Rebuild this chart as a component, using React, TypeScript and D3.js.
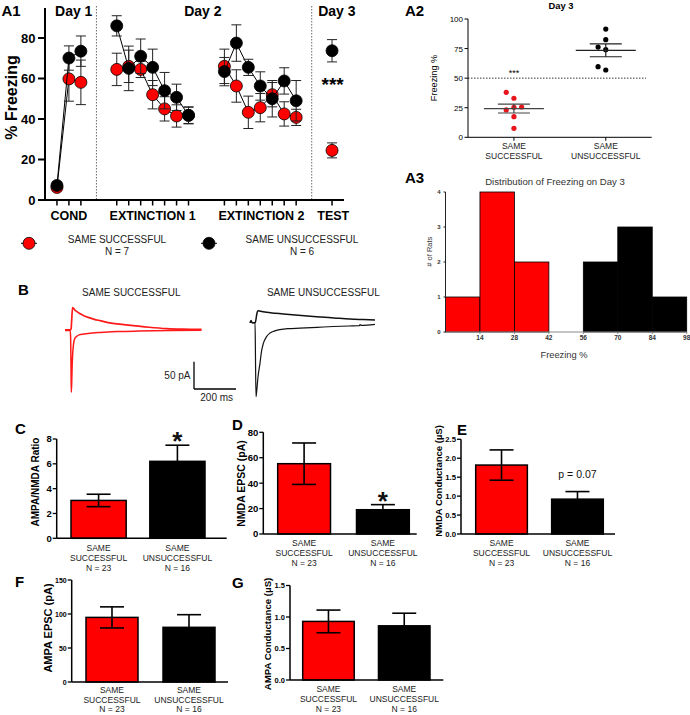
import React from "react";
import * as d3 from "d3";

const RED = "#ff0000";
const FONT = "'Liberation Sans', Arial, Helvetica, sans-serif";

// ---------------- A1 data ----------------
const a1Trial = [1, 2, 3, 6, 7, 8, 9, 10, 11, 12, 15, 16, 17, 18, 19, 20, 21, 24];
const a1Session = ["COND", "COND", "COND", "EXT1", "EXT1", "EXT1", "EXT1", "EXT1", "EXT1", "EXT1", "EXT2", "EXT2", "EXT2", "EXT2", "EXT2", "EXT2", "EXT2", "TEST"];
const a1SuccessMean = [6.2, 59.8, 58.1, 64.5, 66, 64.5, 52, 45, 41.5, 41.8, 66, 56.3, 43.3, 45.6, 52, 42.5, 40.8, 24.5];
const a1SuccessSem = [0.8, 11, 11, 8, 8, 4, 7, 6, 5.5, 4, 8.5, 8, 8, 7, 6, 6, 4, 3.7];
const a1UnsuccessMean = [7.2, 70.1, 73.5, 86, 65, 71, 65.5, 54, 50.7, 41.8, 63.4, 77.5, 65.5, 56.3, 50, 58.8, 49, 73.7];
const a1UnsuccessSem = [0.8, 6, 7.5, 5, 11, 8.5, 9, 9, 6.5, 4.2, 7, 9, 4, 7, 9, 6.5, 10, 5.5];
const a1SessionLabels = ["COND", "EXTINCTION 1", "EXTINCTION 2", "TEST"];
const a1DayLabels = ["Day 1", "Day 2", "Day 3"];
const a1YTicks = [0, 20, 40, 60, 80];
const legendNames = ["SAME SUCCESSFUL", "SAME UNSUCCESSFUL"];
const legendN = ["N = 7", "N = 6"];

// ---------------- A2 data ----------------
const a2Success = [38, 33, 25.6, 25.3, 23.1, 17.4, 7.6];
const a2Unsuccess = [91.5, 82.5, 76.3, 74.1, 59.7, 56.9];
const a2YTicks = [0, 25, 50, 75, 100];
const a2Groups = [["SAME", "SUCCESSFUL"], ["SAME", "UNSUCCESSFUL"]];

// ---------------- A3 data ----------------
const histEdges = [0, 14, 28, 42, 56, 70, 84, 98];
const histSuccess = [1, 4, 2, 0, 0, 0, 0];
const histUnsuccess = [0, 0, 0, 0, 2, 3, 1];
const histYTicks = [0, 1, 2, 3, 4];

// ---------------- B traces (ms, pA) ----------------
const redUpperT = [0, 26, 29, 32, 36, 40, 46, 55, 70, 90, 115, 140, 167, 200, 250, 325, 400, 485, 560, 650];
const redUpperI = [1, 1, 3, 20, 42, 41, 38, 35, 31, 27, 23.5, 20.5, 18, 15, 12, 9, 6, 3.5, 2.5, 2];
const redLowerT = [0, 25, 27, 29, 30, 32, 34, 37, 41, 46, 55, 67, 90, 130, 167, 250, 350, 500, 650];
const redLowerI = [0, 0, -15, -80, -113, -95, -65, -40, -24, -15, -11, -8, -6.5, -4.5, -3.5, -2, -1, 0, 0.5];
const blackUpperT = [0, 5, 10, 25, 28, 32, 36, 40, 50, 79, 120, 159, 230, 317, 400, 476, 540, 595];
const blackUpperI = [0, 4, 0, 0, 5, 15, 21, 22, 21, 19, 17.5, 16, 13.5, 11, 8.8, 6.8, 5.8, 5];
const blackLowerT = [0, 5, 10, 24, 26, 28.6, 32, 38, 47.6, 55, 63.5, 78, 95, 115, 135, 180, 238, 320, 397, 470, 520, 524, 530, 595];
const blackLowerI = [0, 3, 0, 0, -60, -135.5, -125, -100, -74, -52, -38, -26, -19, -15.5, -13, -11, -10, -8.5, -7, -6, -5.5, -3.5, -5, -3];

// ---------------- Bar data ----------------
const barGroups = ["SAME SUCCESSFUL", "SAME UNSUCCESSFUL"];
const barLabelLines = [["SAME", "SUCCESSFUL", "N = 23"], ["SAME", "UNSUCCESSFUL", "N = 16"]];
const ratioMean = [3.05, 6.2];
const ratioSem = [0.5, 1.3];
const nmdaEpscMean = [55.3, 19.1];
const nmdaEpscSem = [16.3, 4];
const nmdaCondMean = [1.82, 0.92];
const nmdaCondSem = [0.4, 0.2];
const ampaEpscMean = [95, 80.4];
const ampaEpscSem = [15.5, 18.6];
const ampaCondMean = [0.93, 0.86];
const ampaCondSem = [0.18, 0.2];

function PanelA1() {
  const x = d3.scaleLinear().domain([0, 25]).range([45, 344]);
  const y = d3.scaleLinear().domain([0, 80]).range([200, 38]);
  const idx = d3.range(a1Trial.length);
  const segs = d3.groups(idx, (i) => a1Session[i]).map((d) => d[1]);
  const series = [
    { mean: a1SuccessMean, sem: a1SuccessSem, fill: RED },
    { mean: a1UnsuccessMean, sem: a1UnsuccessSem, fill: "#000" },
  ];
  const sessionAt = [2, 9, 18.1, 24.1];
  const dayAt = [2.4, 13.2, 24.4];
  return (
    <g>
      <text x={1.5} y={15.5} fontSize={15} fontWeight="bold">A1</text>
      {[4.3, 22.3].map((v) => (
        <line key={v} x1={x(v)} x2={x(v)} y1={6} y2={200} stroke="#444" strokeWidth={0.8} strokeDasharray="1.5,1.5" />
      ))}
      {a1DayLabels.map((t, i) => (
        <text key={t} x={x(dayAt[i])} y={16} textAnchor="middle" fontSize={14} fontWeight="bold">{t}</text>
      ))}
      <line x1={45} x2={45} y1={y(94.8)} y2={201} stroke="#000" strokeWidth={2} />
      <line x1={44} x2={344} y1={200} y2={200} stroke="#000" strokeWidth={2} />
      {a1YTicks.map((t) => (
        <g key={t}>
          <line x1={38} x2={45} y1={y(t)} y2={y(t)} stroke="#000" strokeWidth={2} />
          <text x={35.5} y={y(t) + 4.7} textAnchor="end" fontSize={13} fontWeight="bold">{t}</text>
        </g>
      ))}
      {a1Trial.map((t) => (
        <line key={t} x1={x(t)} x2={x(t)} y1={200} y2={205.5} stroke="#000" strokeWidth={1.5} />
      ))}
      {a1SessionLabels.map((s, i) => (
        <text key={s} x={x(sessionAt[i])} y={220} textAnchor="middle" fontSize={12.5} fontWeight="bold">{s}</text>
      ))}
      <text transform="translate(17,97.5) rotate(-90)" textAnchor="middle" fontSize={16} fontWeight="bold">% Freezing</text>
      {series.map((s, si) => {
        const line = d3.line<number>().x((i) => x(a1Trial[i])).y((i) => y(s.mean[i]));
        return (
          <g key={si}>
            {segs.map((sg, k) => (
              <path key={k} d={line(sg) || ""} fill="none" stroke="#000" strokeWidth={1} />
            ))}
            {idx.map((i) => {
              const cx = x(a1Trial[i]);
              const y1 = y(s.mean[i] + s.sem[i]);
              const y2 = y(s.mean[i] - s.sem[i]);
              return (
                <g key={i} stroke="#222" strokeWidth={1}>
                  <line x1={cx} x2={cx} y1={y1} y2={y2} />
                  <line x1={cx - 5} x2={cx + 5} y1={y1} y2={y1} />
                  <line x1={cx - 5} x2={cx + 5} y1={y2} y2={y2} />
                </g>
              );
            })}
            {idx.map((i) => (
              <circle key={i} cx={x(a1Trial[i])} cy={y(s.mean[i])} r={6} fill={s.fill} stroke="#000" strokeWidth={0.8} />
            ))}
          </g>
        );
      })}
      <text x={x(24.05)} y={91} textAnchor="middle" fontSize={19} fontWeight="bold">***</text>
      {[RED, "#000"].map((c, i) => {
        const cx = i === 0 ? 29 : 209;
        const tx = i === 0 ? 117 : 302;
        return (
          <g key={i}>
            <line x1={cx - 8} x2={cx + 8} y1={243.3} y2={243.3} stroke="#000" strokeWidth={1} />
            <circle cx={cx} cy={243.3} r={6} fill={c} stroke="#000" strokeWidth={0.8} />
            <text x={tx} y={243} textAnchor="middle" fontSize={10} fill="#222">{legendNames[i]}</text>
            <text x={tx} y={255} textAnchor="middle" fontSize={10} fill="#222">{legendN[i]}</text>
          </g>
        );
      })}
    </g>
  );
}

function beeswarm(vals: number[], y: (v: number) => number, d: number, minDist: number) {
  const order = d3.range(vals.length).sort((a, b) => vals[a] - vals[b]);
  const placed: { dx: number; py: number }[] = [];
  const out: number[] = new Array(vals.length).fill(0);
  for (const i of order) {
    const py = y(vals[i]);
    for (const dx of [0, -d, d, -2 * d, 2 * d]) {
      const ok = placed.every((p) => Math.hypot(p.dx - dx, p.py - py) >= minDist);
      if (ok) {
        out[i] = dx;
        placed.push({ dx, py });
        break;
      }
    }
  }
  return out;
}

function PanelA2() {
  const y = d3.scaleLinear().domain([0, 100]).range([137.3, 19]);
  const x = d3.scalePoint<number>().domain([0, 1]).range([468, 651.7]).padding(0.5);
  const groups = [
    { vals: a2Success, fill: "#e8141b", line: "#444" },
    { vals: a2Unsuccess, fill: "#000", line: "#222" },
  ];
  return (
    <g>
      <text x={405} y={15.5} fontSize={15} fontWeight="bold">A2</text>
      <text x={561} y={9} textAnchor="middle" fontSize={9.4} fontWeight="bold">Day 3</text>
      <line x1={468} x2={468} y1={y(100)} y2={y(0)} stroke="#000" strokeWidth={1} />
      <line x1={468} x2={651.7} y1={y(0)} y2={y(0)} stroke="#000" strokeWidth={1} />
      {a2YTicks.map((t) => (
        <g key={t}>
          <line x1={464.5} x2={468} y1={y(t)} y2={y(t)} stroke="#000" />
          <text x={463} y={y(t) + 3} textAnchor="end" fontSize={8}>{t}</text>
        </g>
      ))}
      <text transform="translate(437,78) rotate(-90)" textAnchor="middle" fontSize={9.2}>Freezing %</text>
      <line x1={468} x2={646} y1={y(50)} y2={y(50)} stroke="#000" strokeWidth={0.8} strokeDasharray="1.5,1.5" />
      {groups.map((g, gi) => {
        const cx = x(gi) as number;
        const m = d3.mean(g.vals) as number;
        const sem = (d3.deviation(g.vals) as number) / Math.sqrt(g.vals.length);
        const offs = beeswarm(g.vals, y, 7.7, 7.5);
        return (
          <g key={gi}>
            <line x1={cx} x2={cx} y1={y(0)} y2={y(0) + 3.5} stroke="#000" />
            {a2Groups[gi].map((s, k) => (
              <text key={k} x={cx} y={149 + k * 10} textAnchor="middle" fontSize={8.5} fill="#222">{s}</text>
            ))}
            {g.vals.map((v, i) => (
              <circle key={i} cx={cx + offs[i]} cy={y(v)} r={2.6} fill={g.fill} />
            ))}
            <g stroke={g.line} strokeWidth={1.2}>
              <line x1={cx - 30} x2={cx + 30} y1={y(m)} y2={y(m)} />
              <line x1={cx} x2={cx} y1={y(m + sem)} y2={y(m - sem)} />
              <line x1={cx - 16} x2={cx + 16} y1={y(m + sem)} y2={y(m + sem)} />
              <line x1={cx - 16} x2={cx + 16} y1={y(m - sem)} y2={y(m - sem)} />
            </g>
          </g>
        );
      })}
      <text x={x(0) as number} y={76} textAnchor="middle" fontSize={9}>***</text>
    </g>
  );
}

function PanelA3() {
  const x = d3.scaleLinear().domain([0, 98]).range([445.5, 686.7]);
  const y = d3.scaleLinear().domain([0, 4]).range([332, 192]);
  const bins = d3.range(histEdges.length - 1);
  return (
    <g>
      <text x={405} y={183} fontSize={15} fontWeight="bold">A3</text>
      <text x={555} y={185} textAnchor="middle" fontSize={9.6} fill="#333">Distribution of Freezing on Day 3</text>
      {bins.map((b) =>
        [
          { c: histSuccess[b], f: RED },
          { c: histUnsuccess[b], f: "#000" },
        ]
          .filter((d) => d.c > 0)
          .map((d, k) => (
            <rect key={`${b}-${k}`} x={x(histEdges[b])} y={y(d.c)} width={x(histEdges[b + 1]) - x(histEdges[b])} height={y(0) - y(d.c)} fill={d.f} stroke="#000" strokeWidth={0.8} />
          ))
      )}
      <line x1={445.5} x2={686.7} y1={332} y2={332} stroke="#888" strokeWidth={1} />
      <line x1={445.5} x2={445.5} y1={192} y2={332} stroke="#222" strokeWidth={1} />
      {histYTicks.map((t) => (
        <g key={t}>
          <line x1={443.5} x2={445.5} y1={y(t)} y2={y(t)} stroke="#222" />
          <text x={440.5} y={y(t) + 2.2} textAnchor="end" fontSize={6} fontWeight="bold" fill="#333">{t}</text>
        </g>
      ))}
      {histEdges.slice(1).map((t) => (
        <g key={t}>
          <line x1={x(t)} x2={x(t)} y1={332} y2={334} stroke="#888" />
          <text x={x(t)} y={339.5} textAnchor="middle" fontSize={6.5} fontWeight="bold" fill="#333">{t}</text>
        </g>
      ))}
      <text transform="translate(431.5,251.7) rotate(-90)" textAnchor="middle" fontSize={7.5} fill="#333">
        # of Rats
      </text>
      <text x={564} y={357.5} textAnchor="middle" fontSize={9.3} fill="#333">Freezing %</text>
    </g>
  );
}

function Trace({ t, i, x0, base, color, w }: { t: number[]; i: number[]; x0: number; base: number; color: string; w: number }) {
  const xs = d3.scaleLinear().domain([0, 200]).range([x0, x0 + 42]);
  const ys = d3.scaleLinear().domain([0, 50]).range([base, base - 27.3]);
  const line = d3
    .line<number>()
    .x((k) => xs(t[k]))
    .y((k) => ys(i[k]))
    .curve(d3.curveMonotoneX);
  return <path d={line(d3.range(t.length)) || ""} fill="none" stroke={color} strokeWidth={w} strokeLinejoin="round" />;
}

function PanelB() {
  const xs = d3.scaleLinear().domain([0, 200]).range([194, 236]);
  const ys = d3.scaleLinear().domain([0, 50]).range([389, 361.7]);
  return (
    <g>
      <text x={18} y={295} fontSize={15} fontWeight="bold">B</text>
      <text x={131.3} y={296} textAnchor="middle" fontSize={10} fill="#222">SAME SUCCESSFUL</text>
      <text x={323.3} y={296} textAnchor="middle" fontSize={10} fill="#222">SAME UNSUCCESSFUL</text>
      <Trace t={redUpperT} i={redUpperI} x0={65} base={330.5} color="#ff1a1a" w={1.7} />
      <Trace t={redLowerT} i={redLowerI} x0={65} base={330.5} color="#ff1a1a" w={1.5} />
      <Trace t={blackUpperT} i={blackUpperI} x0={250} base={322.7} color="#111" w={1.5} />
      <Trace t={blackLowerT} i={blackLowerI} x0={250} base={322.7} color="#111" w={1.2} />
      <line x1={xs(0)} x2={xs(0)} y1={ys(0)} y2={ys(50)} stroke="#000" strokeWidth={1.3} />
      <line x1={xs(0)} x2={xs(200)} y1={ys(0)} y2={ys(0)} stroke="#000" strokeWidth={1.3} />
      <text x={190.5} y={379} textAnchor="end" fontSize={10} fill="#222">50 pA</text>
      <text x={216.7} y={401} textAnchor="middle" fontSize={10} fill="#222">200 ms</text>
    </g>
  );
}

type Note = { text: string; dy: number; size: number; bold: boolean; group: number };
type BarCfg = {
  letter: string;
  letterX: number;
  letterY: number;
  axisX: number;
  axisEnd: number;
  y0: number;
  yTopPx: number;
  yMax: number;
  ticks: number[];
  fmt: (v: number) => string;
  tickSize: number;
  means: number[];
  sems: number[];
  band: [number, number];
  pad: number;
  yLabel: string;
  yLabelX: number;
  yLabelY: number;
  yLabelSize: number;
  labelTop: number;
  labelStep: number;
  note?: Note;
};

function BarPanel({ c }: { c: BarCfg }) {
  const y = d3.scaleLinear().domain([0, c.yMax]).range([c.y0, c.yTopPx]);
  const x = d3.scaleBand().domain(barGroups).range(c.band).paddingInner(c.pad);
  const bw = x.bandwidth();
  return (
    <g>
      <text x={c.letterX} y={c.letterY} fontSize={15} fontWeight="bold">{c.letter}</text>
      {barGroups.map((g, i) => {
        const bx = x(g) as number;
        const m = c.means[i];
        const s = c.sems[i];
        const cx = bx + bw / 2;
        return (
          <g key={g}>
            <rect x={bx} y={y(m)} width={bw} height={c.y0 - y(m)} fill={i === 0 ? RED : "#000"} stroke="#000" strokeWidth={1.5} />
            <g stroke="#000" strokeWidth={1.6}>
              <line x1={cx} x2={cx} y1={y(m + s)} y2={y(m - s)} />
              <line x1={cx - 12} x2={cx + 12} y1={y(m + s)} y2={y(m + s)} />
              <line x1={cx - 12} x2={cx + 12} y1={y(m - s)} y2={y(m - s)} />
            </g>
            {barLabelLines[i].map((l, k) => (
              <text key={k} x={cx} y={c.y0 + c.labelTop + k * c.labelStep} textAnchor="middle" fontSize={8.5} fill="#222">{l}</text>
            ))}
          </g>
        );
      })}
      <line x1={c.axisX} x2={c.axisX} y1={c.yTopPx} y2={c.y0} stroke="#000" strokeWidth={1.5} />
      <line x1={c.axisX} x2={c.axisEnd} y1={c.y0} y2={c.y0} stroke="#000" strokeWidth={1.5} />
      {c.ticks.map((t) => (
        <g key={t}>
          <line x1={c.axisX - 4} x2={c.axisX} y1={y(t)} y2={y(t)} stroke="#000" strokeWidth={1.3} />
          <text x={c.axisX - 5} y={y(t) + c.tickSize * 0.36} textAnchor="end" fontSize={c.tickSize} fontWeight="bold">{c.fmt(t)}</text>
        </g>
      ))}
      <text transform={`translate(${c.yLabelX},${c.yLabelY}) rotate(-90)`} textAnchor="middle" fontSize={c.yLabelSize} fontWeight="bold">
        {c.yLabel}
      </text>
      {c.note && (() => {
        const n = c.note as Note;
        const g = barGroups[n.group];
        const cx = (x(g) as number) + bw / 2;
        const top = y(c.means[n.group] + c.sems[n.group]);
        return (
          <text x={cx} y={top + n.dy} textAnchor="middle" fontSize={n.size} fontWeight={n.bold ? "bold" : "normal"} fill="#111">
            {n.text}
          </text>
        );
      })()}
    </g>
  );
}

const intFmt = (v: number) => String(v);
const oneDec = d3.format(".1f");

const panels: BarCfg[] = [
  {
    letter: "C", letterX: 15, letterY: 434, axisX: 56.7, axisEnd: 226.7, y0: 538.3, yTopPx: 439, yMax: 8,
    ticks: [0, 2, 4, 6, 8], fmt: intFmt, tickSize: 9.5, means: ratioMean, sems: ratioSem,
    band: [71, 205], pad: 0.3, yLabel: "AMPA/NMDA Ratio", yLabelX: 39, yLabelY: 482, yLabelSize: 10,
    labelTop: 12.5, labelStep: 10.2,
    note: { text: "*", dy: 5, size: 26, bold: true, group: 1 },
  },
  {
    letter: "D", letterX: 232, letterY: 430, axisX: 263.3, axisEnd: 416.7, y0: 534, yTopPx: 432.3, yMax: 80,
    ticks: [0, 20, 40, 60, 80], fmt: intFmt, tickSize: 9.5, means: nmdaEpscMean, sems: nmdaEpscSem,
    band: [277.7, 409.3], pad: 0.33, yLabel: "NMDA EPSC (pA)", yLabelX: 244.5, yLabelY: 483.5, yLabelSize: 10.5,
    labelTop: 11.5, labelStep: 10.4,
    note: { text: "*", dy: 5, size: 26, bold: true, group: 1 },
  },
  {
    letter: "E", letterX: 457, letterY: 435, axisX: 461, axisEnd: 615, y0: 534, yTopPx: 439.3, yMax: 2.5,
    ticks: [0, 0.5, 1, 1.5, 2, 2.5], fmt: oneDec, tickSize: 7.8, means: nmdaCondMean, sems: nmdaCondSem,
    band: [475.7, 603.3], pad: 0.32, yLabel: "NMDA Conductance (µS)", yLabelX: 441.5, yLabelY: 481, yLabelSize: 9.5,
    labelTop: 11.5, labelStep: 10.4,
    note: { text: "p = 0.07", dy: -13.5, size: 10.5, bold: false, group: 1 },
  },
  {
    letter: "F", letterX: 15, letterY: 587, axisX: 71.7, axisEnd: 228, y0: 682, yTopPx: 580, yMax: 150,
    ticks: [0, 50, 100, 150], fmt: intFmt, tickSize: 7, means: ampaEpscMean, sems: ampaEpscSem,
    band: [86, 215], pad: 0.325, yLabel: "AMPA EPSC (pA)", yLabelX: 52, yLabelY: 628, yLabelSize: 11,
    labelTop: 11, labelStep: 9.6,
  },
  {
    letter: "G", letterX: 232, letterY: 588, axisX: 290, axisEnd: 443.3, y0: 680, yTopPx: 585.5, yMax: 1.5,
    ticks: [0, 0.5, 1, 1.5], fmt: oneDec, tickSize: 7.5, means: ampaCondMean, sems: ampaCondSem,
    band: [302.7, 430], pad: 0.32, yLabel: "AMPA Conductance (µS)", yLabelX: 271, yLabelY: 634, yLabelSize: 9.7,
    labelTop: 12, labelStep: 9.8,
  },
];

export default function App() {
  return (
    <svg
      width={690}
      height={715}
      viewBox="0 0 690 715"
      style={{ position: "absolute", left: 0, top: 0, background: "#fff" }}
      fontFamily={FONT}
    >
      <rect x={0} y={0} width={690} height={715} fill="#fff" />
      <PanelA1 />
      <PanelA2 />
      <PanelA3 />
      <PanelB />
      {panels.map((p) => (
        <BarPanel key={p.letter} c={p} />
      ))}
    </svg>
  );
}
